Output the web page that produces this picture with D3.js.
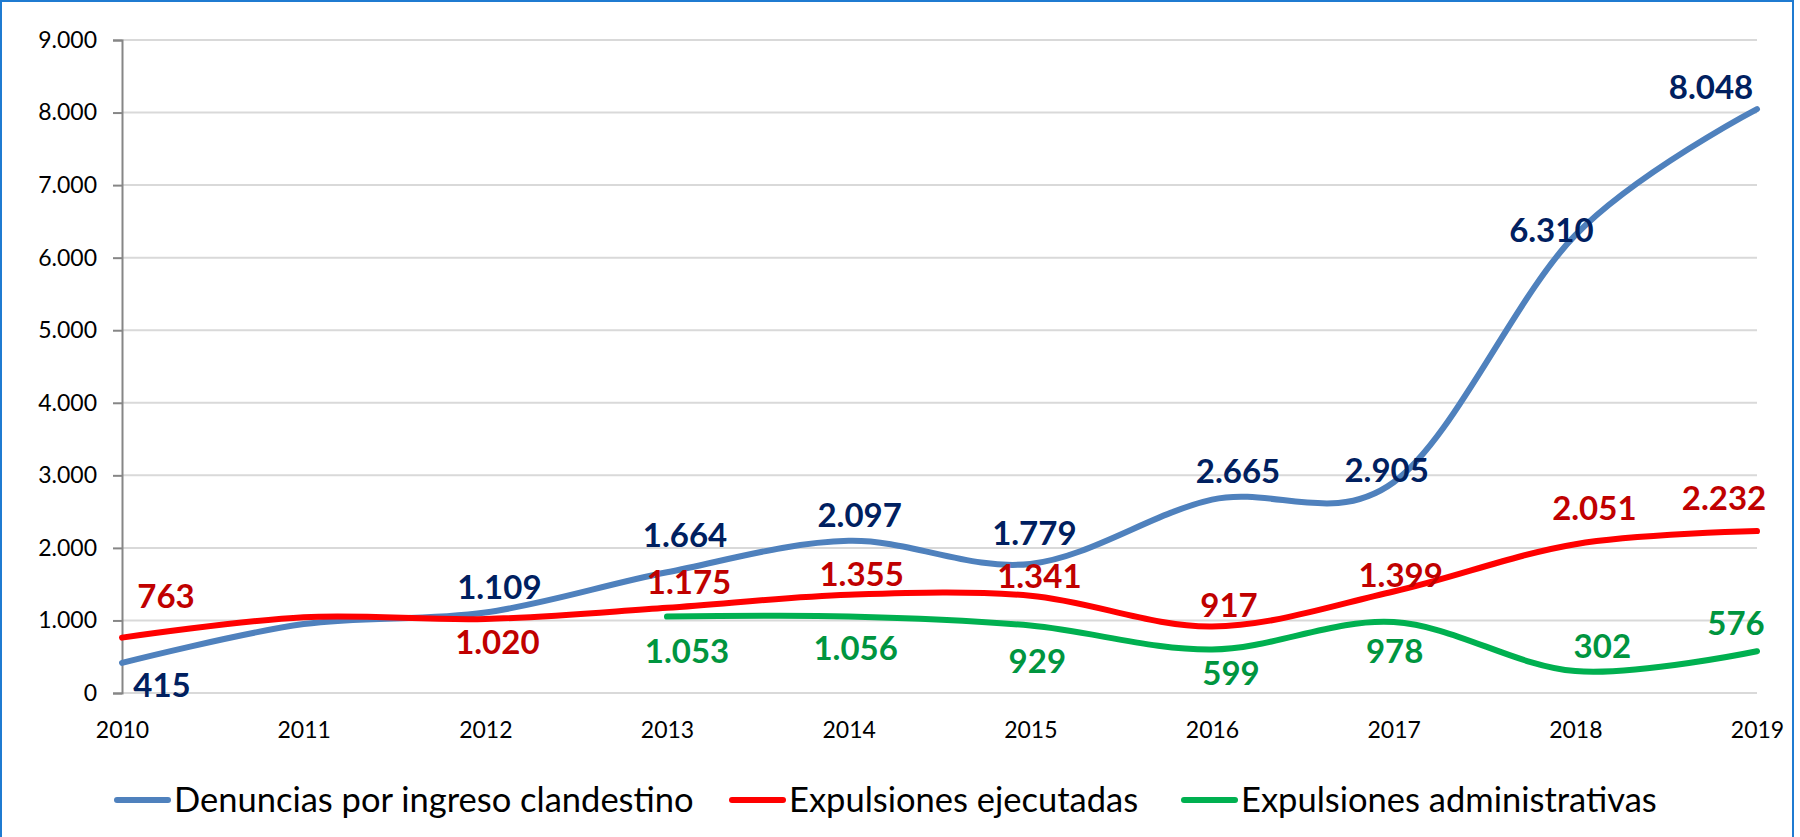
<!DOCTYPE html>
<html>
<head>
<meta charset="utf-8">
<script src="https://cdn.jsdelivr.net/npm/d3@7"></script>
<style>
  body { margin: 0; background: #fff; }
  svg { display: block; }
</style>
</head>
<body>
<div id="vis-container"></div>
<script>
// chart data
const years = [2010, 2011, 2012, 2013, 2014, 2015, 2016, 2017, 2018, 2019];
const denuncias = [415, 950, 1109, 1664, 2097, 1779, 2665, 2905, 6310, 8048];
const ejecutadas = [763, 1045, 1020, 1175, 1355, 1341, 917, 1399, 2051, 2232];
const administrativas = [null, null, null, 1053, 1056, 929, 599, 978, 302, 576];
const seriesNames = ["Denuncias por ingreso clandestino", "Expulsiones ejecutadas", "Expulsiones administrativas"];
const yTicks = [0, 1000, 2000, 3000, 4000, 5000, 6000, 7000, 8000, 9000];
const hiddenLabelYears = [2011];

// where each data label sits relative to its point (px: dx, dy to baseline)
const shiftDen = [[40, 34], [0, 0], [14, -14], [18, -25], [11, -14], [4, -19], [26, -17], [-7, 0], [-24, 7], [-46, -10]];
const shiftEje = [[44, -30], [0, 0], [12, 35], [22, -14], [13, -9], [9, -8], [17, -9], [7, -4], [19, -24], [-33, -21]];
const shiftAdm = [[0, 0], [0, 0], [0, 0], [20, 46], [7, 44], [7, 47], [19, 35], [1, 41], [27, -13], [-21, -16]];

const width = 1800;
const height = 837;
const margin = { top: 40, right: 43, bottom: 144, left: 122 };

const fmt = d3.formatLocale({ decimal: ",", thousands: ".", grouping: [3], currency: ["", "€"] }).format(",d");

const svg = d3.select("#vis-container")
  .append("svg")
  .attr("width", width)
  .attr("height", height);

// outer border
svg.append("rect")
  .attr("x", 1).attr("y", 1)
  .attr("width", 1792).attr("height", height + 10)
  .attr("fill", "none")
  .attr("stroke", "#1f7bd1")
  .attr("stroke-width", 2);

const x = d3.scalePoint()
  .domain(years)
  .range([margin.left, width - margin.right]);

const y = d3.scaleLinear()
  .domain([0, 9000])
  .range([height - margin.bottom, margin.top]);

// gridlines
svg.append("g")
  .selectAll("line")
  .data(yTicks)
  .join("line")
    .attr("x1", margin.left)
    .attr("x2", width - margin.right)
    .attr("y1", d => y(d))
    .attr("y2", d => y(d))
    .attr("stroke", "#d9d9d9")
    .attr("stroke-width", 2);

// y axis
const yAxis = svg.append("g")
  .attr("transform", `translate(${margin.left},0)`)
  .call(d3.axisLeft(y).tickValues(yTicks).tickFormat(fmt).tickSize(9).tickPadding(16));
yAxis.select(".domain").attr("stroke", "#868686").attr("stroke-width", 2);
yAxis.selectAll(".tick line").attr("stroke", "#868686").attr("stroke-width", 2);
yAxis.selectAll("text")
  .attr("font-family", "Lato, sans-serif")
  .attr("font-size", "23px")
  .attr("fill", "#000");

// x axis labels (no axis line)
const xAxis = svg.append("g")
  .attr("transform", `translate(0,${height - margin.bottom})`)
  .call(d3.axisBottom(x).tickSize(0).tickPadding(29));
xAxis.select(".domain").remove();
xAxis.selectAll("text")
  .attr("font-family", "Lato, sans-serif")
  .attr("font-size", "23px")
  .attr("fill", "#000");

const series = [
  { name: seriesNames[0], values: denuncias, shift: shiftDen, line: "#4f81bd", label: "#002060" },
  { name: seriesNames[1], values: ejecutadas, shift: shiftEje, line: "#ff0000", label: "#c00000" },
  { name: seriesNames[2], values: administrativas, shift: shiftAdm, line: "#00b050", label: "#00953f" }
];

const line = d3.line()
  .defined(d => d.v != null)
  .x(d => x(d.year))
  .y(d => y(d.v))
  .curve(d3.curveCardinal.tension(0));

series.forEach(s => {
  const pts = years.map((yr, i) => ({ year: yr, v: s.values[i], shift: s.shift[i] }));
  svg.append("path")
    .datum(pts)
    .attr("d", line)
    .attr("fill", "none")
    .attr("stroke", s.line)
    .attr("stroke-width", 6)
    .attr("stroke-linecap", "round");

  s.pts = pts;
});

// data labels on top
series.forEach(s => {
  svg.append("g")
    .selectAll("text")
    .data(s.pts.filter(d => d.v != null && !hiddenLabelYears.includes(d.year)))
    .join("text")
      .attr("x", d => x(d.year) + d.shift[0])
      .attr("y", d => y(d.v) + d.shift[1])
      .attr("text-anchor", "middle")
      .attr("font-family", "Lato, sans-serif")
      .attr("font-weight", "bold")
      .attr("font-size", "33px")
      .attr("fill", s.label)
      .text(d => fmt(d.v));
});

// legend
const legendX = [115, 730, 1182];
const legend = svg.append("g").attr("transform", "translate(0,800)");
series.forEach((s, i) => {
  const g = legend.append("g").attr("transform", `translate(${legendX[i]},0)`);
  g.append("line")
    .attr("x1", 2).attr("x2", 53)
    .attr("stroke", s.line)
    .attr("stroke-width", 6)
    .attr("stroke-linecap", "round");
  g.append("text")
    .attr("x", 59)
    .attr("y", 12)
    .attr("font-family", "Lato, sans-serif")
    .attr("font-size", "34.5px")
    .attr("fill", "#000")
    .text(s.name);
});
</script>
</body>
</html>
